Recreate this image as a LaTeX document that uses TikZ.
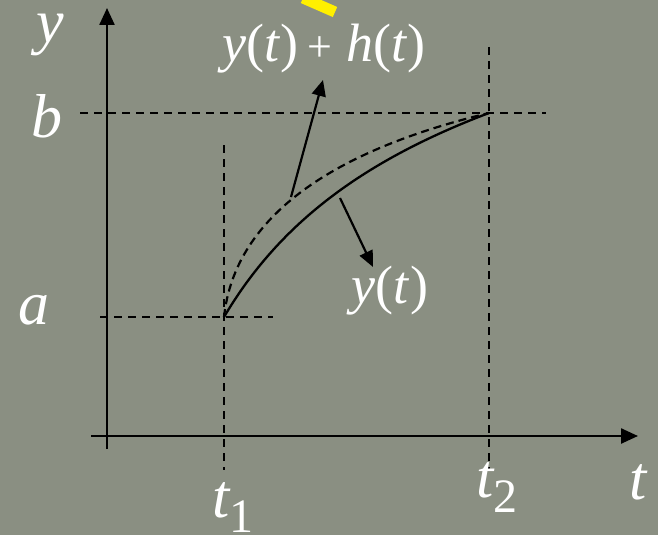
\documentclass[tikz,border=0pt]{standalone}
\usepackage{fontspec}
\setmainfont{Liberation Serif}
\usetikzlibrary{arrows.meta}
\definecolor{bgc}{RGB}{138,143,130}
\definecolor{hl}{RGB}{255,240,0}
\begin{document}
\begin{tikzpicture}[x=1pt,y=-1pt,
  axis/.style={line width=2.4pt,-{Triangle[length=17pt,width=15pt]}},
  guide/.style={line width=1.8pt,dash pattern=on 8pt off 6pt},
  pointer/.style={line width=2.2pt,-{Triangle[length=16pt,width=14pt]}},
  lbl/.style={text=white,inner sep=0pt,font=\fontsize{62}{62}\selectfont\itshape},
  lblm/.style={text=white,inner sep=0pt,font=\fontsize{54}{54}\selectfont}]
\fill[bgc] (0,0) rectangle (658,535);
\useasboundingbox (0,0) rectangle (658,535);
% highlight fragment
\draw[hl,line width=11pt] (303,-2) -- (335,12);
% axes
\coordinate (ys) at (107,449);
\coordinate (ye) at (107,8);
\coordinate (xs) at (91,436);
\coordinate (xe) at (638,436);
\draw[axis] (ys) -- (ye);
\draw[axis] (xs) -- (xe);
% guides
\coordinate (P) at (224,317);
\coordinate (Q) at (489,113);
\coordinate (t1top) at (224,145);
\coordinate (t1bot) at (224,470);
\coordinate (t2top) at (489,47);
\coordinate (t2bot) at (489,470);
\coordinate (bl) at (80,113);
\coordinate (br) at (546,113);
\coordinate (al) at (100,317);
\coordinate (ar) at (273,317);
\draw[guide] (t1top) -- (t1bot);
\draw[guide] (t2top) -- (t2bot);
\draw[guide] (bl) -- (br);
\draw[guide] (al) -- (ar);
% curves
\draw[line width=2.3pt] (P) .. controls (280,222) and (365,160) .. (Q);
\draw[line width=2.2pt,dash pattern=on 8pt off 5pt] (P) .. controls (235,215) and (335,150) .. (Q);
% pointers
\coordinate (p1s) at (291,197);
\coordinate (p1e) at (323,80);
\coordinate (p2s) at (340,198);
\coordinate (p2e) at (373,267);
\draw[pointer] (p1s) -- (p1e);
\draw[pointer] (p2s) -- (p2e);
% labels
\node[lbl,anchor=base] (ly) at (50,42) {y};
\node[lbl] (lb) at (47,116) {b};
\node[lbl] (la) at (34,310) {a};
\node[lbl] (lt) at (638,482) {t};
\node[lbl,anchor=base west] (lt1) at (212,517) {t\raisebox{-0.25em}{\fontsize{48}{48}\selectfont\upshape 1}};
\node[lbl,anchor=base west] (lt2) at (476,497) {t\raisebox{-0.25em}{\fontsize{48}{48}\selectfont\upshape 2}};
\node[lblm,anchor=base] (lyh) at (324,62) {\textit{y}(\textit{t})\,\fontsize{44}{44}\selectfont+\fontsize{54}{54}\selectfont\ \textit{h}(\textit{t})};
\node[lblm,anchor=base] (lyt) at (390,303) {\textit{y}(\textit{t})};
\end{tikzpicture}
\end{document}
